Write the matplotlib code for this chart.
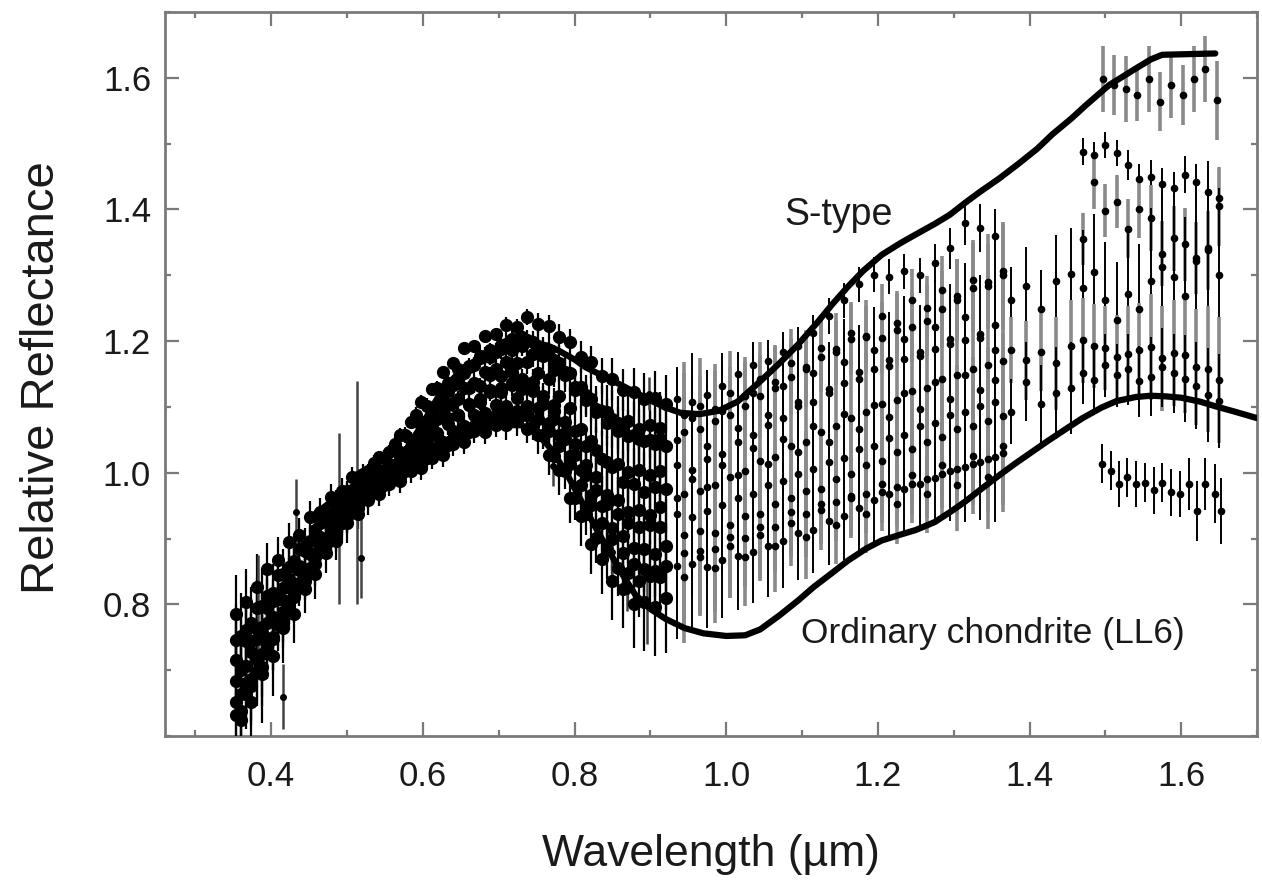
import numpy as np
import matplotlib
matplotlib.use("Agg")
import matplotlib.pyplot as plt
from matplotlib.ticker import MultipleLocator, FormatStrFormatter

plt.rcParams['font.family'] = ['Liberation Sans', 'DejaVu Sans']

# ---------------- visible spectra (two interleaved wavelength grids, µm) ----------------
vis_wl_a = [0.360, 0.374, 0.388, 0.402, 0.416, 0.430, 0.444, 0.458, 0.472, 0.486,
            0.500, 0.514, 0.528, 0.542, 0.556, 0.570, 0.584, 0.598, 0.612, 0.626,
            0.640, 0.654, 0.668, 0.682, 0.696, 0.710, 0.724, 0.738, 0.752, 0.766,
            0.780, 0.794, 0.808, 0.822, 0.836, 0.850, 0.864, 0.878, 0.892, 0.906, 0.920]
vis_wl_b = [0.353, 0.367, 0.381, 0.395, 0.409, 0.423, 0.437, 0.451, 0.465, 0.479,
            0.493, 0.507, 0.521, 0.535, 0.549, 0.563, 0.577, 0.591, 0.605, 0.619,
            0.633, 0.647, 0.661, 0.675, 0.689, 0.703, 0.717, 0.731, 0.745, 0.759,
            0.773, 0.787, 0.801, 0.815, 0.829, 0.843, 0.857, 0.871, 0.885, 0.899, 0.913]

vis_s1 = [0.700, 0.745, 0.765, 0.805, 0.825, 0.862, 0.881, 0.913, 0.927, 0.958,
          0.972, 0.993, 1.002, 1.024, 1.032, 1.058, 1.077, 1.108, 1.127, 1.153,
          1.166, 1.189, 1.192, 1.208, 1.211, 1.224, 1.221, 1.236, 1.226, 1.223,
          1.206, 1.198, 1.176, 1.168, 1.147, 1.143, 1.126, 1.123, 1.112, 1.114, 1.104]
vis_s2 = [0.785, 0.803, 0.826, 0.853, 0.868, 0.894, 0.906, 0.932, 0.941, 0.963,
          0.972, 0.993, 0.998, 1.015, 1.022, 1.043, 1.057, 1.088, 1.101, 1.128,
          1.137, 1.158, 1.162, 1.178, 1.176, 1.188, 1.186, 1.193, 1.181, 1.178,
          1.156, 1.148, 1.126, 1.118, 1.097, 1.093, 1.076, 1.078, 1.066, 1.073, 1.068]
vis_s3 = [0.638, 0.676, 0.705, 0.748, 0.776, 0.814, 0.836, 0.873, 0.892, 0.924,
          0.941, 0.968, 0.977, 0.998, 1.002, 1.024, 1.031, 1.058, 1.072, 1.098,
          1.106, 1.128, 1.136, 1.153, 1.157, 1.168, 1.166, 1.168, 1.151, 1.143,
          1.116, 1.098, 1.066, 1.048, 1.021, 1.008, 0.986, 0.983, 0.971, 0.978, 0.976]
vis_s4 = [0.746, 0.761, 0.795, 0.812, 0.844, 0.857, 0.884, 0.897, 0.924, 0.937,
          0.958, 0.967, 0.983, 0.987, 1.003, 1.007, 1.024, 1.032, 1.053, 1.061,
          1.083, 1.087, 1.104, 1.107, 1.123, 1.122, 1.134, 1.127, 1.128, 1.106,
          1.094, 1.061, 1.044, 1.011, 0.994, 0.966, 0.958, 0.941, 0.943, 0.936, 0.948]
vis_s5 = [0.664, 0.686, 0.724, 0.751, 0.789, 0.811, 0.844, 0.861, 0.893, 0.906,
          0.934, 0.946, 0.968, 0.976, 0.993, 0.997, 1.013, 1.017, 1.038, 1.046,
          1.063, 1.071, 1.088, 1.091, 1.103, 1.101, 1.113, 1.102, 1.098, 1.076,
          1.058, 1.026, 1.004, 0.966, 0.949, 0.916, 0.904, 0.886, 0.884, 0.876, 0.889]
vis_s6 = [0.716, 0.744, 0.762, 0.794, 0.811, 0.838, 0.852, 0.878, 0.891, 0.918,
          0.931, 0.953, 0.962, 0.978, 0.982, 0.998, 1.002, 1.018, 1.022, 1.038,
          1.042, 1.058, 1.062, 1.078, 1.077, 1.088, 1.087, 1.088, 1.071, 1.058,
          1.026, 1.003, 0.961, 0.938, 0.901, 0.883, 0.856, 0.848, 0.836, 0.843, 0.841]
vis_s7 = [0.624, 0.651, 0.694, 0.721, 0.764, 0.786, 0.824, 0.846, 0.878, 0.897,
          0.923, 0.937, 0.958, 0.967, 0.983, 0.987, 1.003, 1.007, 1.023, 1.027,
          1.043, 1.047, 1.063, 1.062, 1.073, 1.072, 1.078, 1.067, 1.058, 1.027,
          1.004, 0.961, 0.934, 0.891, 0.869, 0.836, 0.824, 0.801, 0.804, 0.796, 0.809]
vis_s8 = [0.683, 0.706, 0.748, 0.771, 0.808, 0.827, 0.858, 0.877, 0.903, 0.917,
          0.943, 0.952, 0.973, 0.982, 0.998, 1.007, 1.028, 1.042, 1.068, 1.082,
          1.103, 1.112, 1.128, 1.132, 1.148, 1.147, 1.153, 1.142, 1.138, 1.117,
          1.103, 1.077, 1.063, 1.041, 1.034, 1.016, 1.013, 1.001, 1.004, 0.996, 1.003]
vis_s9 = [0.752, 0.771, 0.798, 0.818, 0.846, 0.866, 0.889, 0.904, 0.928, 0.944,
          0.962, 0.978, 0.989, 1.004, 1.013, 1.031, 1.049, 1.072, 1.094, 1.118,
          1.133, 1.152, 1.163, 1.178, 1.184, 1.196, 1.197, 1.201, 1.193, 1.186,
          1.166, 1.152, 1.131, 1.112, 1.094, 1.081, 1.066, 1.058, 1.048, 1.044, 1.041]
vis_s10 = [0.652, 0.681, 0.716, 0.742, 0.778, 0.803, 0.833, 0.856, 0.884, 0.903,
           0.926, 0.943, 0.961, 0.974, 0.988, 0.996, 1.011, 1.021, 1.041, 1.056,
           1.074, 1.087, 1.103, 1.112, 1.126, 1.128, 1.137, 1.131, 1.124, 1.104,
           1.081, 1.052, 1.027, 0.996, 0.974, 0.952, 0.938, 0.924, 0.918, 0.921, 0.917]
vis_s11 = [0.706, 0.728, 0.757, 0.781, 0.806, 0.829, 0.851, 0.872, 0.893, 0.912,
           0.933, 0.948, 0.964, 0.975, 0.988, 0.994, 1.006, 1.013, 1.027, 1.036,
           1.051, 1.058, 1.071, 1.076, 1.088, 1.091, 1.094, 1.088, 1.081, 1.063,
           1.041, 1.013, 0.982, 0.951, 0.924, 0.899, 0.878, 0.861, 0.853, 0.851, 0.858]
vis_s12 = [0.632, 0.664, 0.698, 0.734, 0.768, 0.797, 0.826, 0.853, 0.879, 0.901,
           0.924, 0.946, 0.963, 0.981, 0.993, 1.009, 1.027, 1.051, 1.078, 1.103,
           1.124, 1.143, 1.161, 1.174, 1.186, 1.194, 1.203, 1.206, 1.198, 1.188,
           1.171, 1.153, 1.131, 1.111, 1.092, 1.076, 1.064, 1.056, 1.052, 1.049, 1.051]

vis_err = [0.060, 0.050, 0.050, 0.040, 0.035, 0.030, 0.025, 0.025, 0.020, 0.020,
           0.020, 0.015, 0.015, 0.012, 0.012, 0.012, 0.012, 0.012, 0.012, 0.012,
           0.012, 0.012, 0.012, 0.012, 0.012, 0.015, 0.015, 0.015, 0.020, 0.020,
           0.025, 0.025, 0.030, 0.030, 0.035, 0.040, 0.040, 0.045, 0.050, 0.050, 0.055]
vis_err_scale = [0.8, 1.0, 1.2, 0.9, 1.3, 1.1, 1.5, 1.0, 1.1, 1.4, 1.2, 0.9]

# isolated noisy visible points
vis_extra_wl = [0.383, 0.416, 0.433, 0.489, 0.513, 0.518, 0.771, 0.850, 0.869, 0.895, 0.898]
vis_extra_val = [0.800, 0.660, 0.940, 0.930, 0.970, 0.870, 1.010, 0.880, 0.820, 0.800, 1.120]
vis_extra_err = [0.075, 0.050, 0.050, 0.130, 0.170, 0.060, 0.030, 0.040, 0.030, 0.060, 0.025]

# ---------------- near-infrared J-band spectra ----------------
nir_wl_a = [0.935, 0.955, 0.975, 0.995, 1.015, 1.035, 1.055, 1.075, 1.095, 1.115, 1.135,
            1.155, 1.175, 1.195, 1.215, 1.235, 1.255, 1.275, 1.295, 1.315, 1.335, 1.355]
nir_wl_b = [0.945, 0.965, 0.985, 1.005, 1.025, 1.045, 1.065, 1.085, 1.105, 1.125, 1.145,
            1.165, 1.185, 1.205, 1.225, 1.245, 1.265, 1.285, 1.305, 1.325, 1.345, 1.365]

nir_ja1 = [1.112, 1.108, 1.118, 1.132, 1.150, 1.163, 1.170, 1.184, 1.192, 1.213, 1.238,
           1.262, 1.286, 1.301, 1.298, 1.306, 1.300, 1.318, 1.341, 1.379, 1.372, 1.360]
nir_jb1 = [1.062, 1.066, 1.078, 1.088, 1.101, 1.116, 1.128, 1.146, 1.158, 1.176, 1.188,
           1.203, 1.208, 1.205, 1.217, 1.222, 1.231, 1.248, 1.262, 1.281, 1.290, 1.300]
nir_ja2 = [1.012, 1.004, 1.021, 1.028, 1.047, 1.058, 1.073, 1.083, 1.102, 1.108, 1.127,
           1.137, 1.153, 1.158, 1.172, 1.173, 1.183, 1.188, 1.203, 1.201, 1.204, 1.187]
nir_jb2 = [0.968, 0.972, 0.981, 0.994, 1.003, 1.018, 1.024, 1.041, 1.047, 1.062, 1.071,
           1.083, 1.092, 1.104, 1.111, 1.124, 1.128, 1.142, 1.149, 1.158, 1.163, 1.170]
nir_ja3 = [0.938, 0.933, 0.942, 0.951, 0.962, 0.968, 0.981, 0.987, 0.998, 1.006, 1.017,
           1.022, 1.036, 1.041, 1.053, 1.058, 1.071, 1.076, 1.087, 1.092, 1.101, 1.108]
nir_jb3 = [0.878, 0.872, 0.884, 0.889, 0.901, 0.906, 0.918, 0.924, 0.937, 0.943, 0.956,
           0.961, 0.968, 0.971, 0.978, 0.983, 0.991, 0.998, 1.006, 1.013, 1.021, 1.030]
nir_ja4 = [0.858, 0.862, 0.857, 0.868, 0.874, 0.879, 0.888, 0.897, 0.908, 0.913, 0.926,
           0.934, 0.947, 0.958, 0.968, 0.975, 0.983, 0.992, 1.003, 1.008, 1.016, 1.024]
nir_jb4 = [0.905, 0.912, 0.908, 0.921, 0.934, 0.938, 0.952, 0.961, 0.972, 0.976, 0.991,
           0.998, 1.012, 1.018, 1.031, 1.036, 1.047, 1.054, 1.066, 1.071, 1.078, 1.086]
nir_ja5 = [1.050, 1.083, 1.041, 1.094, 1.068, 1.121, 1.087, 1.132, 1.108, 1.152, 1.121,
           1.168, 1.142, 1.186, 1.162, 1.203, 1.178, 1.221, 1.196, 1.236, 1.211, 1.224]
nir_jb5 = [0.842, 0.881, 0.856, 0.902, 0.872, 0.918, 0.889, 0.941, 0.903, 0.952, 0.921,
           0.964, 0.938, 0.983, 0.952, 0.996, 0.968, 1.012, 0.981, 1.026, 0.994, 1.041]
nir_ja6 = [0.962, 0.991, 0.978, 1.012, 0.996, 1.038, 1.014, 1.052, 1.031, 1.071, 1.046,
           1.089, 1.067, 1.103, 1.084, 1.121, 1.097, 1.138, 1.112, 1.149, 1.126, 1.141]
nir_jb6 = [1.088, 1.102, 1.097, 1.121, 1.116, 1.142, 1.138, 1.167, 1.161, 1.189, 1.183,
           1.212, 1.206, 1.238, 1.228, 1.262, 1.251, 1.277, 1.268, 1.293, 1.284, 1.306]

nir_j_err = [0.100, 0.090, 0.085, 0.080, 0.075, 0.070, 0.070, 0.065, 0.065, 0.060, 0.060,
             0.060, 0.060, 0.060, 0.060, 0.060, 0.060, 0.065, 0.070, 0.075, 0.080, 0.090]
nir_j_err_scale = [0.45, 0.9, 1.2, 1.5, 1.3, 1.0, 1.1, 1.4, 1.1, 1.0, 1.3, 0.8]

# points between the J and H windows
nir_gap_wl = [1.375, 1.395, 1.415, 1.435, 1.455]
nir_gap1 = [1.262, 1.283, 1.248, 1.291, 1.302]
nir_gap2 = [1.186, 1.171, 1.184, 1.166, 1.192]
nir_gap3 = [1.093, 1.138, 1.104, 1.121, 1.129]
nir_gap_err = [0.050, 0.060, 0.060, 0.070, 0.070]

# ---------------- near-infrared H-band spectra ----------------
nir_h_wl_a = [1.470, 1.485, 1.500, 1.515, 1.530, 1.545, 1.560, 1.575, 1.590, 1.605, 1.620, 1.635, 1.650]
nir_h_wl_b = [1.497, 1.512, 1.527, 1.542, 1.557, 1.572, 1.587, 1.602, 1.617, 1.632, 1.647]
nir_h_wl_c = [1.495, 1.507, 1.518, 1.529, 1.541, 1.552, 1.564, 1.575, 1.587, 1.598,
              1.610, 1.621, 1.632, 1.644, 1.652]

nir_h1 = [1.598, 1.589, 1.583, 1.574, 1.598, 1.564, 1.589, 1.574, 1.598, 1.614, 1.566]
nir_h2 = [1.488, 1.482, 1.498, 1.486, 1.468, 1.447, 1.450, 1.438, 1.432, 1.453, 1.441, 1.426, 1.418]
nir_h3 = [1.355, 1.441, 1.398, 1.412, 1.371, 1.401, 1.387, 1.333, 1.356, 1.347, 1.326, 1.338, 1.405]
nir_h4 = [1.281, 1.305, 1.262, 1.232, 1.271, 1.248, 1.292, 1.312, 1.298, 1.268, 1.322, 1.341, 1.301]
nir_h5 = [1.201, 1.192, 1.189, 1.176, 1.181, 1.186, 1.191, 1.174, 1.182, 1.179, 1.161, 1.158, 1.141]
nir_h7 = [1.152, 1.141, 1.163, 1.148, 1.157, 1.139, 1.146, 1.160, 1.151, 1.143, 1.132, 1.118, 1.109]
nir_h6 = [1.014, 1.003, 0.983, 0.993, 0.983, 0.985, 0.973, 0.985, 0.970, 0.968,
          0.983, 0.942, 0.983, 0.968, 0.942]

nir_h_err_a = [0.040, 0.040, 0.040, 0.040, 0.045, 0.045, 0.050, 0.050, 0.050, 0.055, 0.055, 0.060, 0.060]
nir_h_err_scale = [0.5, 1.0, 2.2, 1.6, 1.2]
nir_h1_err = [0.050, 0.045, 0.050, 0.040, 0.050, 0.045, 0.050, 0.045, 0.050, 0.050, 0.060]
nir_h6_err = [0.030, 0.030, 0.035, 0.030, 0.035, 0.030, 0.035, 0.030, 0.035, 0.035,
              0.040, 0.045, 0.040, 0.045, 0.050]

# ---------------- reference spectra (S-type average, LL6 chondrite) ----------------
stype_wl = [0.45, 0.50, 0.55, 0.575, 0.60, 0.625, 0.65, 0.675, 0.70, 0.725, 0.745, 0.765,
            0.78, 0.80, 0.815, 0.85, 0.877, 0.90, 0.92, 0.94, 0.965, 0.99, 1.015, 1.045,
            1.07, 1.095, 1.12, 1.14, 1.16, 1.18, 1.205, 1.23, 1.25, 1.275, 1.295, 1.315,
            1.335, 1.36, 1.385, 1.41, 1.43, 1.455, 1.475, 1.505, 1.54, 1.56, 1.575, 1.61, 1.645]
stype_refl = [0.930, 0.970, 1.000, 1.030, 1.075, 1.125, 1.155, 1.175, 1.188, 1.196, 1.198, 1.193,
              1.185, 1.172, 1.160, 1.140, 1.124, 1.110, 1.099, 1.091, 1.089, 1.094, 1.108, 1.139,
              1.166, 1.195, 1.228, 1.256, 1.282, 1.306, 1.331, 1.349, 1.362, 1.378, 1.392, 1.410,
              1.427, 1.447, 1.469, 1.492, 1.514, 1.538, 1.559, 1.589, 1.614, 1.628, 1.635, 1.636, 1.637]

oc_wl = [0.45, 0.50, 0.55, 0.60, 0.65, 0.70, 0.73, 0.75, 0.77, 0.79, 0.81, 0.83, 0.85,
         0.865, 0.88, 0.90, 0.92, 0.945, 0.97, 1.00, 1.025, 1.045, 1.07, 1.095, 1.115,
         1.14, 1.16, 1.185, 1.205, 1.23, 1.25, 1.275, 1.295, 1.315, 1.336, 1.36, 1.38,
         1.405, 1.425, 1.45, 1.47, 1.495, 1.515, 1.54, 1.56, 1.58, 1.60, 1.625, 1.645,
         1.67, 1.70]
oc_refl = [0.930, 0.975, 1.000, 1.030, 1.058, 1.073, 1.072, 1.060, 1.035, 0.998, 0.955, 0.912,
           0.872, 0.842, 0.815, 0.793, 0.778, 0.764, 0.756, 0.752, 0.753, 0.762, 0.783, 0.806,
           0.826, 0.848, 0.866, 0.885, 0.897, 0.906, 0.913, 0.925, 0.940, 0.956, 0.975, 0.996,
           1.013, 1.033, 1.049, 1.068, 1.083, 1.099, 1.109, 1.115, 1.117, 1.116, 1.114, 1.108,
           1.101, 1.093, 1.083]

x_ticks = [0.4, 0.6, 0.8, 1.0, 1.2, 1.4, 1.6]
y_ticks = [0.8, 1.0, 1.2, 1.4, 1.6]

# ---------------- figure ----------------
W, H = 1262, 884
fig = plt.figure(figsize=(W / 100, H / 100), dpi=100)
ax = fig.add_axes([165 / W, 1 - 736 / H, 1092 / W, 724 / H])

vis_sets = [(vis_wl_a, vis_s1), (vis_wl_b, vis_s2), (vis_wl_a, vis_s3), (vis_wl_b, vis_s4),
            (vis_wl_a, vis_s5), (vis_wl_b, vis_s6), (vis_wl_a, vis_s7), (vis_wl_b, vis_s8),
            (vis_wl_a, vis_s9), (vis_wl_b, vis_s10), (vis_wl_a, vis_s11), (vis_wl_b, vis_s12)]
for (wl, refl), k in zip(vis_sets, vis_err_scale):
    ax.errorbar(wl, refl, yerr=np.array(vis_err) * k, fmt='o', ms=8.5, mfc='black', mec='black',
                ecolor='black', elinewidth=1.6, capsize=0, zorder=3)
ax.errorbar(vis_extra_wl, vis_extra_val, yerr=vis_extra_err, fmt='o', ms=4, color='black',
            ecolor='#444444', elinewidth=1.8, capsize=0, zorder=3)

j_sets = [(nir_wl_a, nir_ja1), (nir_wl_b, nir_jb1), (nir_wl_a, nir_ja2), (nir_wl_b, nir_jb2),
          (nir_wl_a, nir_ja3), (nir_wl_b, nir_jb3), (nir_wl_a, nir_ja4), (nir_wl_b, nir_jb4),
          (nir_wl_a, nir_ja5), (nir_wl_b, nir_jb5), (nir_wl_a, nir_ja6), (nir_wl_b, nir_jb6)]
for i, ((wl, refl), k) in enumerate(zip(j_sets, nir_j_err_scale)):
    grey = i % 2 == 1
    ax.errorbar(wl, refl, yerr=np.array(nir_j_err) * k, fmt='o', ms=4.5, color='black',
                ecolor='#8a8a8a' if grey else 'black', elinewidth=2.6 if grey else 1.4,
                capsize=0, zorder=3)

for i, vals in enumerate([nir_gap1, nir_gap2, nir_gap3]):
    ax.errorbar(nir_gap_wl, vals, yerr=nir_gap_err, fmt='o', ms=4.5, color='black',
                ecolor='#8a8a8a' if i == 1 else 'black', elinewidth=2.6 if i == 1 else 1.4,
                capsize=0, zorder=3)

for i, (vals, k) in enumerate(zip([nir_h2, nir_h3, nir_h4, nir_h5, nir_h7], nir_h_err_scale)):
    grey = i % 2 == 1
    ax.errorbar(nir_h_wl_a, vals, yerr=np.array(nir_h_err_a) * k, fmt='o', ms=4.5, color='black',
                ecolor='#8a8a8a' if grey else 'black', elinewidth=2.6 if grey else 1.4,
                capsize=0, zorder=3)
ax.errorbar(nir_h_wl_b, nir_h1, yerr=nir_h1_err, fmt='o', ms=4.5, color='black',
            ecolor='#8a8a8a', elinewidth=2.6, capsize=0, zorder=3)
ax.errorbar(nir_h_wl_c, nir_h6, yerr=nir_h6_err, fmt='o', ms=4.5, color='black',
            ecolor='black', elinewidth=1.4, capsize=0, zorder=3)

ax.plot(stype_wl, stype_refl, color='black', lw=4.5, solid_joinstyle='round',
        solid_capstyle='round', zorder=6)
ax.plot(oc_wl, oc_refl, color='black', lw=4.5, solid_joinstyle='round',
        solid_capstyle='round', zorder=6)

ax.text(1.148, 1.392, 'S-type', fontsize=27, ha='center', va='center', color='#1a1a1a')
ax.text(1.352, 0.756, 'Ordinary chondrite (LL6)', fontsize=25.5, ha='center', va='center',
        color='#1a1a1a')

ax.set_xlim(0.26, 1.70)
ax.set_ylim(0.6, 1.7)
ax.set_xticks(x_ticks)
ax.set_yticks(y_ticks)
ax.xaxis.set_minor_locator(MultipleLocator(0.1))
ax.yaxis.set_minor_locator(MultipleLocator(0.1))
ax.xaxis.set_major_formatter(FormatStrFormatter('%.1f'))
ax.yaxis.set_major_formatter(FormatStrFormatter('%.1f'))
ax.tick_params(which='both', direction='in', top=True, right=True, color='#7a7a7a',
               labelsize=25, labelcolor='#1a1a1a')
ax.tick_params(which='major', length=10, width=1.6)
ax.tick_params(which='minor', length=4.5, width=1.6)
ax.tick_params(axis='x', which='major', pad=17)
ax.tick_params(axis='y', which='major', pad=10)
for sp in ax.spines.values():
    sp.set_color('#7a7a7a')
    sp.set_linewidth(2.0)

ax.set_xlabel('Wavelength (µm)', fontsize=32, color='#1a1a1a', va='center')
ax.xaxis.set_label_coords(0.5, -0.164)
ax.set_ylabel('Relative Reflectance', fontsize=34, color='#1a1a1a', va='center')
ax.yaxis.set_label_coords(-0.1126, 0.4945)

fig.savefig('out.png', dpi=100)
